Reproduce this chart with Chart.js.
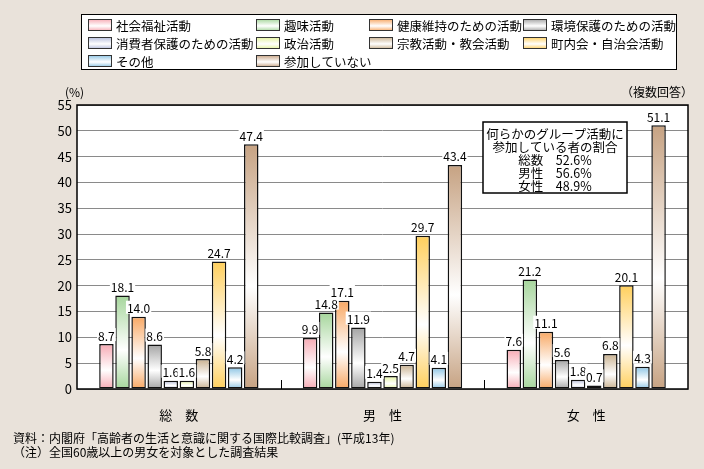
<!DOCTYPE html>
<html>
<head>
<meta charset="utf-8">
<script src="https://cdn.jsdelivr.net/npm/chart.js@4.4.0/dist/chart.umd.min.js"></script>
<style>
  html, body { margin: 0; padding: 0; background: #e9e2da; }
  #wrap { width: 704px; height: 469px; }
</style>
</head>
<body>
<div id="wrap"><canvas id="myChart" width="704" height="469"></canvas></div>
<script>
const groups = ['総　数', '男　性', '女　性']
const activities = [
  '社会福祉活動',
  '趣味活動',
  '健康維持のための活動',
  '環境保護のための活動',
  '消費者保護のための活動',
  '政治活動',
  '宗教活動・教会活動',
  '町内会・自治会活動',
  'その他',
  '参加していない'
]
// values per activity, same order as activities
const total  = [8.7, 18.1, 14.0, 8.6, 1.6, 1.6, 5.8, 24.7, 4.2, 47.4]
const male   = [9.9, 14.8, 17.1, 11.9, 1.4, 2.5, 4.7, 29.7, 4.1, 43.4]
const female = [7.6, 21.2, 11.1, 5.6, 1.8, 0.7, 6.8, 20.1, 4.3, 51.1]
const yTicks = [0, 5, 10, 15, 20, 25, 30, 35, 40, 45, 50, 55]

const noteLines = [
  '何らかのグループ活動に',
  '参加している者の割合',
  '総数　52.6%',
  '男性　56.6%',
  '女性　48.9%'
]
const sourceText = '資料：内閣府「高齢者の生活と意識に関する国際比較調査」(平成13年)'
const noteText = '（注）全国60歳以上の男女を対象とした調査結果'

const colors = [
  '#f7aab4', '#a6d69c', '#f8a864', '#a4a4a4', '#b4bcdc',
  '#e4f49c', '#c8b08e', '#ffcf5c', '#8cc4e4', '#c6a282'
]
const FONT = '"Noto Sans CJK JP", "Noto Sans", sans-serif'

const fillGrad = (c, top, bottom, col) => {
  const g = c.createLinearGradient(0, top, 0, bottom)
  g.addColorStop(0, col)
  g.addColorStop(0.58, '#ffffff')
  g.addColorStop(1, col)
  return g
}

const datasets = activities.map((name, i) => ({
  label: name,
  data: [total[i], male[i], female[i]],
  borderColor: '#111',
  borderWidth: 1.5,
  borderSkipped: false,
  backgroundColor: (ctx) => {
    const chart = ctx.chart
    if (ctx.type !== 'data' || !chart.chartArea) return colors[i]
    const y = chart.scales.y
    const top = y.getPixelForValue(ctx.raw)
    const bottom = y.getPixelForValue(0)
    return fillGrad(chart.ctx, top, bottom, colors[i])
  }
}))

const decorations = {
  id: 'decorations',
  beforeDraw(chart) {
    const c = chart.ctx
    c.save()
    c.fillStyle = '#e9e2da'
    c.fillRect(0, 0, chart.width, chart.height)
    const a = chart.chartArea
    c.fillStyle = '#ffffff'
    c.fillRect(a.left, a.top, a.right - a.left, a.bottom - a.top)
    c.restore()
  },
  afterDatasetsDraw(chart) {
    const c = chart.ctx
    const a = chart.chartArea
    c.save()
    // value labels
    c.font = '12px ' + FONT
    c.textAlign = 'center'
    c.textBaseline = 'bottom'
    chart.data.datasets.forEach((ds, i) => {
      const meta = chart.getDatasetMeta(i)
      meta.data.forEach((bar, j) => {
        const txt = ds.data[j].toFixed(1)
        const w = c.measureText(txt).width
        c.fillStyle = '#ffffff'
        c.fillRect(bar.x - w / 2 - 1, bar.y - 16, w + 2, 13)
        c.fillStyle = '#000'
        c.fillText(txt, bar.x, bar.y - 2)
      })
    })
    // frame
    c.strokeStyle = '#000'
    c.lineWidth = 1.5
    c.strokeRect(a.left, a.top, a.right - a.left, a.bottom - a.top)
    // category separators
    const x = chart.scales.x
    const half = (x.getPixelForValue(1) - x.getPixelForValue(0)) / 2
    c.lineWidth = 1
    for (let k = 0; k < groups.length - 1; k++) {
      const px = Math.round(x.getPixelForValue(k) + half) + 0.5
      c.beginPath()
      c.moveTo(px, a.bottom)
      c.lineTo(px, a.bottom - 9)
      c.stroke()
    }
    c.restore()
  },
  afterDraw(chart) {
    const c = chart.ctx
    const a = chart.chartArea
    c.save()
    c.fillStyle = '#000'
    c.font = '12px ' + FONT
    c.textBaseline = 'middle'
    c.textAlign = 'left'
    c.fillText('(%)', 65, 92)
    c.textAlign = 'right'
    c.fillText('（複数回答）', 693, 92)

    // legend
    c.fillStyle = '#fff'
    c.fillRect(81, 14, 595, 55)
    c.strokeStyle = '#000'
    c.lineWidth = 1
    c.strokeRect(81.5, 14.5, 595, 55)
    const colX = [88, 256, 369, 523]
    const rowY = [25, 43, 61]
    c.textAlign = 'left'
    chart.data.datasets.forEach((ds, i) => {
      const cx = colX[i % 4]
      const cy = rowY[Math.floor(i / 4)]
      c.fillStyle = fillGrad(c, cy - 6, cy + 6, colors[i])
      c.fillRect(cx, cy - 6, 24, 12)
      c.strokeStyle = '#333'
      c.strokeRect(cx + 0.5, cy - 5.5, 23, 11)
      c.fillStyle = '#000'
      c.font = '12.5px ' + FONT
      c.fillText(ds.label, cx + 28, cy + 1)
    })

    // note box
    c.fillStyle = '#fff'
    c.fillRect(483, 122, 144, 71)
    c.strokeStyle = '#000'
    c.lineWidth = 1.5
    c.strokeRect(483, 122, 144, 71)
    c.fillStyle = '#000'
    c.textAlign = 'center'
    c.font = '12.5px ' + FONT
    const noteY = [134, 147, 160, 173, 186]
    noteLines.forEach((t, k) => c.fillText(t, 555, noteY[k]))

    // footnotes
    c.textAlign = 'left'
    c.font = '12px ' + FONT
    c.fillText(sourceText, 13, 438)
    c.fillText(noteText, 13, 452)
    c.restore()
  }
}

const config = {
  type: 'bar',
  data: { labels: groups, datasets: datasets },
  options: {
    responsive: false,
    animation: false,
    layout: { padding: { top: 105, right: 16, left: 0, bottom: 0 } },
    datasets: { bar: { categoryPercentage: 0.79, barPercentage: 0.9 } },
    plugins: { legend: { display: false }, tooltip: { enabled: false } },
    scales: {
      x: {
        grid: { display: false },
        border: { display: false },
        ticks: { color: '#000', font: { family: FONT, size: 13 }, padding: 10 },
        afterFit(scale) { scale.height = 80 }
      },
      y: {
        min: 0,
        max: 55,
        afterBuildTicks(scale) { scale.ticks = yTicks.map(v => ({ value: v })) },
        grid: { color: '#8a8a8a', lineWidth: 1, drawTicks: false },
        border: { display: false },
        ticks: { color: '#000', font: { family: FONT, size: 13 }, padding: 5 },
        afterFit(scale) { scale.width = 77 }
      }
    }
  },
  plugins: [decorations]
}

const myChart = new Chart(document.getElementById('myChart'), config)
</script>
</body>
</html>
